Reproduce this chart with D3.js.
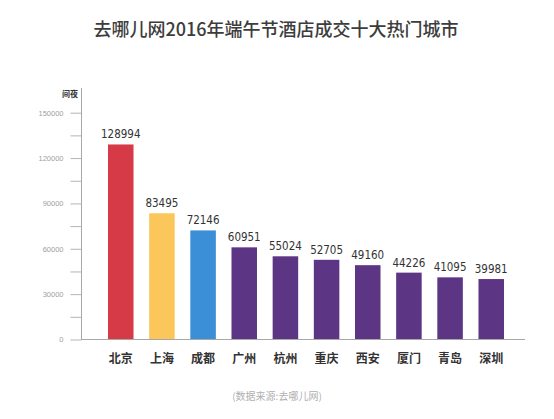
<!DOCTYPE html>
<html>
<head>
<meta charset="utf-8">
<script src="https://cdn.jsdelivr.net/npm/d3@7"></script>
<style>
  body { margin: 0; background: #fff; }
  svg { display: block; }
</style>
</head>
<body>
<div class="container"></div>
<script>
// Data
const cities = ["北京", "上海", "成都", "广州", "杭州", "重庆", "西安", "厦门", "青岛", "深圳"]
const nights = [128994, 83495, 72146, 60951, 55024, 52705, 49160, 44226, 41095, 39981]
const barColors = ["#d63a46", "#fcc75a", "#3a8fd6", "#5c3585", "#5c3585", "#5c3585", "#5c3585", "#5c3585", "#5c3585", "#5c3585"]
const yTicks = [0, 30000, 60000, 90000, 120000, 150000]
const yMinorTicks = [15000, 45000, 75000, 105000, 135000]

const data = cities.map((c, i) => ({city: c, value: nights[i], color: barColors[i]}))

let outerWidth = 554
let outerHeight = 419
const cjk = "'Noto Sans CJK SC', 'Noto Sans', sans-serif"

const svg = d3.select(".container")
    .append("svg")
    .attr("width", outerWidth)
    .attr("height", outerHeight)

// Title
svg.append("text")
    .text("去哪儿网2016年端午节酒店成交十大热门城市")
    .attr("x", 276)
    .attr("y", 36)
    .attr("text-anchor", "middle")
    .attr("font-family", cjk)
    .attr("font-size", 18)
    .attr("font-weight", 500)
    .attr("fill", "#3c3c3c")

// Scales
const xScale = d3.scaleBand()
    .domain(cities)
    .range([87, 525])
    .paddingInner(0.38)
    .paddingOuter(0.51)

const yScale = d3.scaleLinear()
    .domain([0, 150000])
    .range([339.5, 112.7])

// Y axis
const yAxis = d3.axisLeft(yScale)
    .tickValues(yTicks)
    .tickSize(11)
    .tickPadding(7)
    .tickFormat(d3.format("d"))

let y = svg.append("g")
    .attr("transform", "translate(81.5,0)")
    .call(yAxis)
    .call(g => g.select(".domain").remove())

y.selectAll(".tick line").attr("stroke", "#b5b5b5")
y.selectAll(".tick text")
    .attr("font-family", "'Liberation Sans', Arial, sans-serif")
    .attr("font-size", 7.5)
    .attr("fill", "#a0a0a0")

y.selectAll(".minor")
    .data(yMinorTicks)
    .enter()
    .append("line")
    .attr("x1", -11)
    .attr("x2", 0)
    .attr("y1", d => yScale(d) + 0.5)
    .attr("y2", d => yScale(d) + 0.5)
    .attr("stroke", "#b5b5b5")

// axis lines
svg.append("line")
    .attr("x1", 81.5).attr("x2", 81.5)
    .attr("y1", 88).attr("y2", yScale(0))
    .attr("stroke", "#a8a8a8")
    .attr("stroke-width", 1)

svg.append("text")
    .text("间夜")
    .attr("x", 78)
    .attr("y", 97)
    .attr("text-anchor", "end")
    .attr("font-family", cjk)
    .attr("font-weight", "bold")
    .attr("font-size", 8)
    .attr("fill", "#333")

// Bars
svg.selectAll(".bar")
    .data(data)
    .enter()
    .append("rect")
    .attr("x", d => xScale(d.city))
    .attr("y", d => yScale(d.value))
    .attr("width", xScale.bandwidth())
    .attr("height", d => yScale(0) - yScale(d.value))
    .attr("fill", d => d.color)

svg.append("line")
    .attr("x1", 81).attr("x2", 525)
    .attr("y1", yScale(0)).attr("y2", yScale(0))
    .attr("stroke", "#a8a8a8")
    .attr("stroke-width", 1.2)

// Value labels
svg.selectAll(".val")
    .data(data)
    .enter()
    .append("text")
    .text(d => d.value)
    .attr("x", d => xScale(d.city) + xScale.bandwidth() / 2)
    .attr("y", d => yScale(d.value) - 6)
    .attr("text-anchor", "middle")
    .attr("font-family", "'Liberation Sans Narrow', 'DejaVu Sans Condensed', sans-serif")
    .attr("font-size", 11.5)
    .attr("fill", "#333")

// Category labels
svg.selectAll(".cat")
    .data(data)
    .enter()
    .append("text")
    .text(d => d.city)
    .attr("x", d => xScale(d.city) + xScale.bandwidth() / 2)
    .attr("y", 362.5)
    .attr("text-anchor", "middle")
    .attr("font-family", cjk)
    .attr("font-weight", "bold")
    .attr("font-size", 12)
    .attr("fill", "#333")

// Source
svg.append("text")
    .text("(数据来源:去哪儿网)")
    .attr("x", 277)
    .attr("y", 400)
    .attr("text-anchor", "middle")
    .attr("font-family", cjk)
    .attr("font-size", 10)
    .attr("fill", "#b0b0b0")
</script>
</body>
</html>
